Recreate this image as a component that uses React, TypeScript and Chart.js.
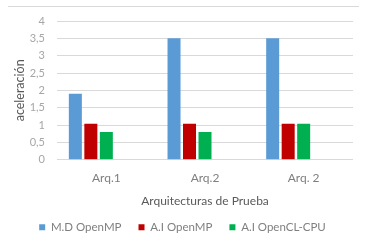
import React, { useEffect, useRef } from "react";
import { Chart, registerables } from "chart.js";

Chart.register(...registerables);

const categories = ["Arq.1", "Arq.2", "Arq. 2"];
const seriesNames = ["M.D OpenMP", "A.I OpenMP", "A.I OpenCL-CPU"];
const mdOpenMP = [1.9, 3.5, 3.5];
const aiOpenMP = [1.04, 1.04, 1.04];
const aiOpenCL = [0.8, 0.8, 1.04];
const emptySeries = [null, null, null];
const yTickLabels = ["0", "0,5", "1", "1,5", "2", "2,5", "3", "3,5", "4"];

const FONT = "Lato";

const topLine = {
  id: "topLine",
  afterDraw(chart: any) {
    const ctx = chart.ctx;
    ctx.save();
    ctx.strokeStyle = "#d9d9d9";
    ctx.lineWidth = 1;
    ctx.beginPath();
    ctx.moveTo(8, 6.5);
    ctx.lineTo(359, 6.5);
    ctx.stroke();
    ctx.restore();
  },
};

export default function App() {
  const ref = useRef<HTMLCanvasElement>(null);
  useEffect(() => {
    document.body.style.margin = "0";
    const chart = new Chart(ref.current!, {
      type: "bar",
      data: {
        labels: categories,
        datasets: [
          { label: seriesNames[0], data: mdOpenMP, backgroundColor: "#5B9BD5" },
          { label: seriesNames[1], data: aiOpenMP, backgroundColor: "#C00000" },
          { label: seriesNames[2], data: aiOpenCL, backgroundColor: "#00B050" },
          { label: "", data: emptySeries, backgroundColor: "transparent" },
          { label: "", data: emptySeries, backgroundColor: "transparent" },
        ],
      },
      options: {
        animation: false,
        responsive: false,
        devicePixelRatio: 1,
        datasets: { bar: { categoryPercentage: 0.785, barPercentage: 0.84 } },
        layout: { padding: { left: 12, right: 18, top: 21, bottom: 1 } },
        plugins: {
          tooltip: { enabled: false },
          legend: {
            position: "bottom",
            labels: {
              filter: (item: any) => item.text !== "",
              boxWidth: 6,
              boxHeight: 6,
              padding: 17,
              color: "#7f7f7f",
              font: { family: FONT, size: 11.5 },
            },
          },
        },
        scales: {
          x: {
            grid: { display: false, drawTicks: false },
            border: { display: false },
            ticks: { color: "#7f7f7f", padding: 11, font: { family: FONT, size: 12 } },
            title: {
              display: true,
              text: "Arquitecturas de Prueba",
              color: "#595959",
              font: { family: FONT, size: 12 },
              padding: { top: -2, bottom: -4 },
            },
          },
          y: {
            min: 0,
            max: 4,
            afterFit: (scale: any) => {
              scale.width = 45;
            },
            ticks: {
              stepSize: 0.5,
              autoSkip: false,
              color: "#a6a6a6",
              padding: 12,
              font: { family: FONT, size: 11 },
              callback: (_v: any, i: number) => yTickLabels[i],
            },
            grid: { color: "#d9d9d9", drawTicks: false },
            border: { display: false },
            title: {
              display: true,
              text: "aceleración",
              color: "#595959",
              font: { family: FONT, size: 12.5 },
              padding: { top: 0, bottom: 0 },
            },
          },
        },
      },
      plugins: [topLine],
    });
    return () => chart.destroy();
  }, []);
  return (
    <div style={{ position: "absolute", left: 0, top: 0, width: 371, height: 244, background: "#fff" }}>
      <canvas ref={ref} width={371} height={244} />
    </div>
  );
}
